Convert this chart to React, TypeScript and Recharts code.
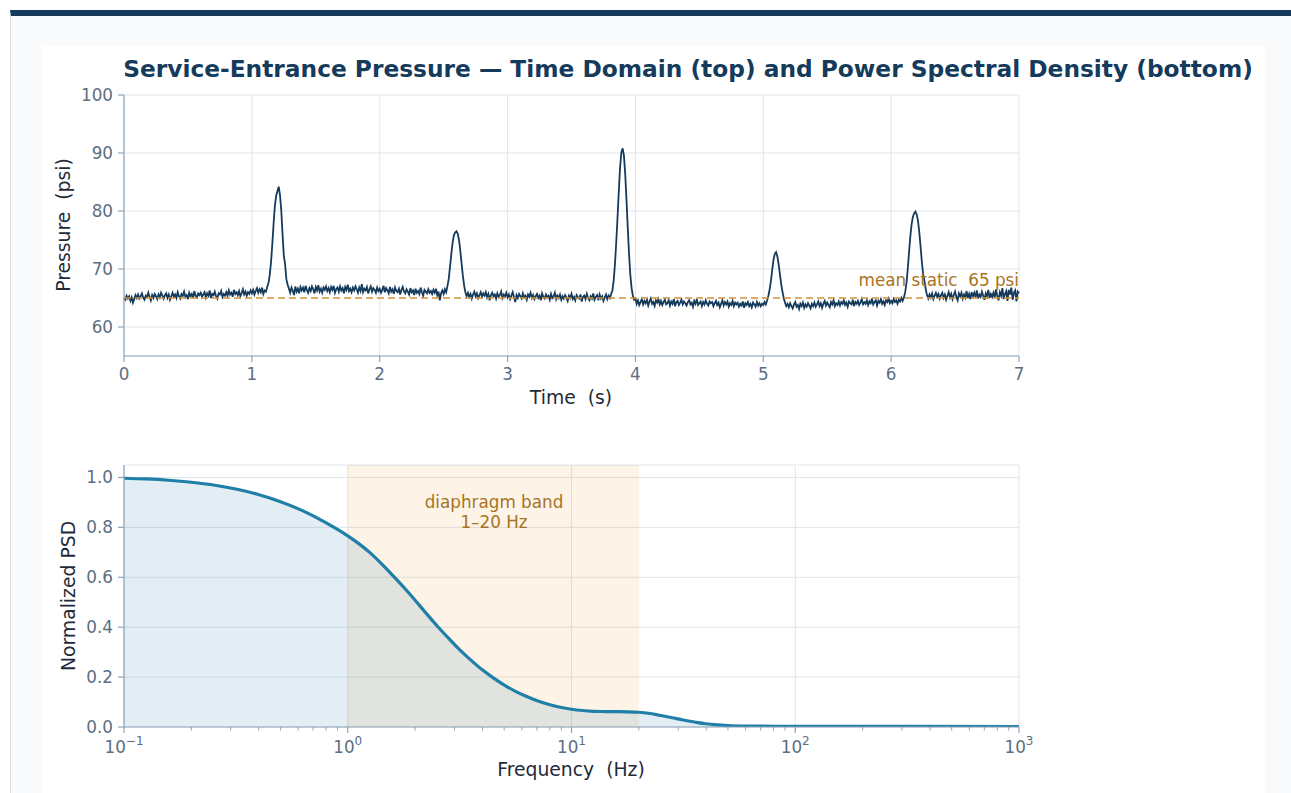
import React from 'react'
import {
  Area,
  CartesianGrid,
  ComposedChart,
  Line,
  LineChart,
  ReferenceArea,
  ReferenceLine,
  XAxis,
  YAxis,
} from 'recharts'

const TITLE = 'Service-Entrance Pressure — Time Domain (top) and Power Spectral Density (bottom)'

// time domain: one sample every 10 ms, 0 … 7 s
const SAMPLE_DT = 0.01
const pressure = [
  65.0, 64.7, 65.4, 64.9, 65.3, 64.5, 65.1, 64.2, 64.8, 65.5, 65.0, 65.6, 64.9, 65.3, 65.8, 65.1, 64.7, 65.4, 65.2, 65.9,
  65.2, 64.6, 65.5, 65.0, 65.7, 65.3, 64.8, 65.6, 65.1, 65.9, 65.4, 64.9, 65.5, 65.8, 65.0, 65.6, 64.7, 65.3, 65.9, 65.2,
  65.6, 65.0, 66.0, 65.3, 64.9, 65.7, 65.4, 66.1, 65.2, 65.5, 64.8, 65.9, 65.3, 65.7, 65.0, 66.2, 65.4, 65.1, 65.8, 65.5,
  65.9, 65.2, 65.6, 66.0, 65.1, 65.8, 65.4, 66.3, 65.0, 65.7, 65.5, 66.1, 65.3, 64.9, 65.8, 65.6, 66.2, 65.2, 65.7, 65.4,
  66.0, 65.4, 66.3, 65.6, 65.9, 65.2, 66.4, 65.7, 66.0, 65.5, 66.2, 65.3, 65.8, 66.5, 65.6, 66.1, 65.4, 66.0, 65.7, 66.3,
  65.8, 66.4, 65.6, 66.2, 66.7, 65.9, 66.5, 66.0, 66.8, 65.7, 66.3, 66.1, 66.9, 67.6, 69.0, 71.2, 74.3, 77.8, 80.9, 82.6,
  83.4, 84.2, 82.8, 80.1, 76.0, 72.3, 70.8, 68.2, 67.3, 66.6, 65.9, 66.8, 66.2, 65.5, 67.0, 66.1, 66.6, 65.8, 66.9, 66.3,
  66.8, 66.0, 67.1, 66.4, 65.9, 66.7, 66.2, 67.0, 66.5, 65.8, 66.9, 66.3, 67.2, 66.1, 66.6, 65.9, 66.8, 66.4, 67.0, 66.2,
  66.7, 66.0, 66.9, 66.4, 67.1, 65.9, 66.5, 66.8, 66.1, 67.0, 66.3, 66.7, 65.8, 66.9, 66.4, 67.3, 66.2, 66.6, 66.0, 66.8,
  66.3, 67.0, 66.5, 65.9, 66.8, 66.2, 67.4, 66.0, 66.6, 66.3, 66.9, 65.8, 66.5, 67.0, 66.1, 66.7, 66.4, 65.9, 66.8, 66.2,
  66.6, 65.9, 66.4, 67.1, 66.0, 66.7, 66.3, 65.8, 66.9, 66.1, 66.5, 65.7, 66.8, 66.2, 66.0, 66.6, 65.6, 66.4, 66.9, 66.1,
  65.8, 66.5, 66.1, 65.6, 66.7, 66.0, 66.3, 65.5, 66.6, 65.9, 66.2, 65.7, 66.8, 66.0, 65.4, 66.4, 66.1, 65.8, 66.5, 65.9,
  66.2, 65.7, 66.4, 65.9, 66.6, 65.5, 66.1, 64.6, 65.8, 66.3, 65.7, 66.5, 66.0, 67.1, 68.3, 70.4, 72.6, 74.5, 75.8, 76.3,
  76.5, 76.1, 75.0, 73.2, 71.0, 68.9, 67.2, 66.0, 65.3, 65.9, 65.2, 65.7, 64.9, 65.6, 66.1, 65.3, 65.8, 65.0, 65.5, 66.0,
  65.2, 65.8, 65.4, 66.0, 65.1, 65.7, 64.6, 65.5, 65.9, 65.3, 65.6, 64.9, 65.8, 65.2, 65.5, 66.1, 65.0, 65.6, 65.3, 65.9,
  65.1, 65.6, 64.8, 65.4, 66.0, 65.2, 64.3, 65.5, 65.0, 65.7, 65.3, 64.9, 65.8, 65.1, 65.4, 64.7, 65.6, 65.2, 65.9, 65.0,
  65.5, 64.8, 65.3, 65.7, 65.0, 65.4, 64.6, 65.8, 65.2, 64.9, 65.6, 65.1, 65.4, 64.7, 65.7, 65.0, 65.3, 65.9, 64.8, 65.4,
  65.0, 65.6, 64.7, 65.3, 64.9, 65.5, 65.1, 64.5, 65.4, 65.0, 65.7, 64.8, 65.2, 64.6, 65.5, 65.1, 64.9, 65.6, 64.4, 65.2,
  65.4, 64.8, 65.7, 65.0, 64.6, 65.3, 64.9, 65.8, 64.7, 65.2, 65.5, 64.6, 65.6, 64.9, 65.3, 64.5, 65.1, 65.6, 64.8, 65.4,
  65.0, 65.7, 66.3, 68.0, 70.9, 74.6, 78.9, 83.4, 87.5, 90.1, 90.8, 89.6, 86.4, 82.0, 77.1, 72.6, 69.0, 66.7, 65.4, 64.7,
  64.9, 64.0, 64.6, 63.8, 64.3, 64.8, 63.9, 64.5, 64.1, 64.7, 63.7, 64.4, 64.9, 64.0, 64.3, 63.6, 64.6, 64.2, 64.8, 63.9,
  64.5, 63.8, 64.3, 64.7, 63.9, 64.1, 64.6, 63.7, 64.4, 64.0, 64.8, 63.6, 64.3, 64.5, 63.8, 64.2, 64.7, 63.9, 64.4, 64.1,
  63.7, 64.3, 64.6, 63.9, 64.2, 63.5, 64.5, 64.0, 64.8, 63.8, 64.1, 64.4, 63.6, 64.3, 63.9, 64.6, 64.0, 63.7, 64.4, 64.1,
  64.3, 63.6, 64.1, 64.5, 63.8, 64.2, 63.4, 64.0, 64.6, 63.7, 64.3, 63.9, 64.4, 63.5, 64.1, 63.8, 64.5, 63.6, 64.2, 63.9,
  64.2, 63.5, 64.0, 63.7, 64.4, 63.3, 64.1, 63.8, 64.3, 63.6, 64.0, 63.4, 64.2, 63.9, 63.5, 64.3, 63.7, 64.1, 63.6, 64.0,
  63.8, 64.3, 63.9, 64.6, 65.4, 66.5, 68.0, 69.9, 71.6, 72.6, 72.9, 72.2, 70.8, 69.1, 67.4, 66.1, 65.0, 64.2, 63.6, 64.0,
  63.4, 64.1, 63.6, 63.2, 63.9, 64.3, 63.5, 63.8, 63.1, 64.0, 63.6, 64.2, 63.3, 63.9, 63.5, 64.1, 63.7, 63.2, 64.0, 63.6,
  64.2, 63.5, 63.9, 64.4, 63.6, 64.1, 63.3, 64.0, 64.5, 63.7, 64.2, 63.8, 63.4, 64.3, 63.9, 64.6, 63.6, 64.1, 63.8, 64.4,
  63.7, 64.3, 64.0, 64.6, 63.8, 64.2, 63.5, 64.4, 64.1, 63.9, 64.7, 63.6, 64.3, 64.0, 64.5, 63.8, 64.2, 64.8, 63.9, 64.3,
  64.0, 64.6, 63.8, 64.4, 64.1, 64.9, 63.9, 64.3, 64.6, 63.7, 64.5, 64.2, 64.8, 64.0, 64.4, 63.8, 64.6, 64.3, 64.9, 64.1,
  64.5, 64.1, 64.8, 64.3, 64.6, 64.0, 64.7, 64.4, 65.0, 64.5, 65.1, 66.0, 67.6, 70.0, 72.9, 75.6, 77.7, 79.0, 79.6, 79.9,
  79.4, 78.3, 76.4, 73.9, 71.3, 69.2, 68.0, 66.6, 65.5, 64.9, 65.6, 65.1, 65.8, 64.8, 65.4, 65.9, 65.2, 65.7, 64.9, 65.5,
  65.9, 65.0, 65.6, 64.7, 65.4, 66.0, 65.1, 65.7, 64.8, 65.5, 66.1, 65.2, 64.6, 65.8, 65.3, 65.9, 64.9, 65.6, 65.1, 66.2,
  65.0, 65.7, 64.8, 66.0, 65.3, 65.9, 65.1, 66.3, 64.9, 65.6, 65.2, 66.1, 65.4, 64.7, 65.8, 65.3, 66.4, 65.0, 65.7, 65.2,
  65.9, 65.1, 66.5, 65.3, 64.6, 66.0, 65.4, 66.7, 64.8, 65.7, 66.2, 64.5, 66.4, 65.6, 66.8, 64.7, 65.9, 66.3, 64.4, 66.1,
  65.8,
]
const timeTicks = [0, 1, 2, 3, 4, 5, 6, 7]
const pressureTicks = [60, 70, 80, 90, 100]
const MEAN_STATIC = 65

// normalized PSD
const freqHz = [
  0.1, 0.126, 0.158, 0.2, 0.251, 0.316, 0.398, 0.501, 0.631, 0.794,
  1, 1.12, 1.26, 1.41, 1.58, 1.78, 2.0, 2.24, 2.51, 2.82,
  3.16, 3.55, 3.98, 4.47, 5.01, 5.62, 6.31, 7.08, 7.94, 8.91,
  10, 11.2, 12.6, 14.1, 15.8, 17.8, 20, 22.4, 25.1, 28.2,
  31.6, 35.5, 39.8, 44.7, 50.1, 63.1, 79.4, 100, 316, 1000,
]
const psdNorm = [
  0.997, 0.994, 0.989, 0.981, 0.97, 0.954, 0.932, 0.903, 0.866, 0.82,
  0.766, 0.735, 0.698, 0.656, 0.61, 0.56, 0.508, 0.456, 0.405, 0.356,
  0.31, 0.268, 0.23, 0.197, 0.168, 0.143, 0.122, 0.104, 0.09, 0.079,
  0.071, 0.066, 0.063, 0.062, 0.0615, 0.061, 0.059, 0.054, 0.046, 0.037,
  0.028, 0.02, 0.013, 0.0085, 0.006, 0.0038, 0.003, 0.0027, 0.0022, 0.002,
]
const psdTicks = [0, 0.2, 0.4, 0.6, 0.8, 1.0]
const decadeTicks = [0.1, 1, 10, 100, 1000]
const decadeExp = ['−1', '0', '1', '2', '3']
const minorTicks = [
  0.2, 0.3, 0.4, 0.5, 0.6, 0.7, 0.8, 0.9,
  2, 3, 4, 5, 6, 7, 8, 9,
  20, 30, 40, 50, 60, 70, 80, 90,
  200, 300, 400, 500, 600, 700, 800, 900,
]
const BAND_LO = 1
const BAND_HI = 20

const NAVY = '#143a5c'
const AXIS = '#8fa4b7'
const GRID = '#dfe6ed'
const TICK_TEXT = '#5d6e7f'
const LABEL = '#1f2b38'
const OCHRE = '#a8741f'
const PSD_BLUE = '#1f7fa8'
const TICK_FONT = 16.8

const timeData = pressure.map((p, i) => ({ t: Math.round(i * SAMPLE_DT * 100) / 100, p }))
const psdData = freqHz.map((f, i) => ({ f, psd: psdNorm[i] }))

function LogTick(props: any) {
  const { x, y, payload } = props
  const idx = decadeTicks.indexOf(payload.value)
  if (idx < 0) {
    return <line x1={x} x2={x} y1={y} y2={y + 3.5} stroke={AXIS} strokeWidth={1} />
  }
  return (
    <g>
      <line x1={x} x2={x} y1={y} y2={y + 6} stroke={AXIS} strokeWidth={1.2} />
      <text x={x} y={y + 26} textAnchor="middle" fill={TICK_TEXT} fontSize={TICK_FONT}>
        10
        <tspan dy={-8} fontSize={12}>
          {decadeExp[idx]}
        </tspan>
      </text>
    </g>
  )
}

function Label({ x, y, text, rotate, color = LABEL, size = 18.8 }: any) {
  return (
    <div
      style={{
        position: 'absolute',
        left: x,
        top: y,
        transform: `translate(-50%, -50%)${rotate ? ' rotate(-90deg)' : ''}`,
        whiteSpace: 'pre',
        color,
        fontSize: size,
        lineHeight: 1.18,
        textAlign: 'center',
      }}
    >
      {text}
    </div>
  )
}

export default function App() {
  return (
    <div
      style={{
        position: 'absolute',
        left: 0,
        top: 0,
        width: 1291,
        height: 793,
        overflow: 'hidden',
        fontFamily: '"DejaVu Sans", sans-serif',
        background: '#ffffff',
      }}
    >
      <div
        style={{
          position: 'absolute',
          left: 10,
          top: 10,
          width: 1290,
          height: 800,
          boxSizing: 'border-box',
          borderTop: `6px solid ${NAVY}`,
          borderLeft: '1px solid #d6dee6',
          background: '#f8fafc',
        }}
      />
      <div style={{ position: 'absolute', left: 42, top: 45, width: 1223, height: 760, background: '#ffffff' }} />

      <div
        style={{
          position: 'absolute',
          left: 0,
          top: 55,
          width: 1376,
          textAlign: 'center',
          fontSize: 23.3,
          fontWeight: 'bold',
          color: NAVY,
          whiteSpace: 'pre',
          lineHeight: '28px',
        }}
      >
        {TITLE}
      </div>

      {/* time domain */}
      <div style={{ position: 'absolute', left: 0, top: 0 }}>
        <LineChart width={1100} height={420} data={timeData} margin={{ top: 95, right: 81, left: 64, bottom: 34 }}>
          <CartesianGrid stroke={GRID} strokeWidth={1} />
          <XAxis
            dataKey="t"
            type="number"
            domain={[0, 7]}
            ticks={timeTicks}
            height={30}
            stroke={AXIS}
            strokeWidth={1.2}
            tickSize={6}
            tickMargin={6}
            tick={{ fill: TICK_TEXT, fontSize: TICK_FONT }}
            interval={0}
          />
          <YAxis
            type="number"
            domain={[55, 100]}
            ticks={pressureTicks}
            width={60}
            stroke={AXIS}
            strokeWidth={1.2}
            tickSize={6}
            tickMargin={5}
            tick={{ fill: TICK_TEXT, fontSize: TICK_FONT }}
            interval={0}
            allowDataOverflow
          />
          <Line
            dataKey="p"
            type="linear"
            stroke={NAVY}
            strokeWidth={1.8}
            dot={false}
            isAnimationActive={false}
          />
          <ReferenceLine y={MEAN_STATIC} stroke="#d4913a" strokeWidth={1.7} strokeDasharray="7 4" />
        </LineChart>
      </div>
      <div
        style={{
          position: 'absolute',
          right: 1291 - 1019,
          top: 270,
          color: OCHRE,
          fontSize: 16.8,
          whiteSpace: 'pre',
          lineHeight: '21px',
        }}
      >
        {'mean static  65 psi'}
      </div>
      <Label x={571} y={398} text={'Time  (s)'} />
      <Label x={64} y={225} text={'Pressure  (psi)'} rotate />

      {/* power spectral density */}
      <div style={{ position: 'absolute', left: 0, top: 400 }}>
        <ComposedChart width={1100} height={400} data={psdData} margin={{ top: 65, right: 81, left: 64, bottom: 43 }}>
          <CartesianGrid stroke={GRID} strokeWidth={1} verticalValues={decadeTicks} />
          <ReferenceArea x1={BAND_LO} x2={BAND_HI} y1={0} y2={1.05} fill="#f0a030" fillOpacity={0.12} stroke="none" />
          <XAxis
            dataKey="f"
            type="number"
            scale="log"
            domain={[0.1, 1000]}
            ticks={[...decadeTicks, ...minorTicks]}
            interval={0}
            height={30}
            stroke={AXIS}
            strokeWidth={1.2}
            tickLine={false}
            tickSize={0}
            tickMargin={0}
            tick={<LogTick />}
            allowDataOverflow
          />
          <YAxis
            type="number"
            domain={[0, 1.05]}
            ticks={psdTicks}
            width={60}
            stroke={AXIS}
            strokeWidth={1.2}
            tickSize={6}
            tickMargin={5}
            tick={{ fill: TICK_TEXT, fontSize: TICK_FONT }}
            tickFormatter={(v: number) => v.toFixed(1)}
            interval={0}
            allowDataOverflow
          />
          <Area
            dataKey="psd"
            type="monotone"
            stroke={PSD_BLUE}
            strokeWidth={3.2}
            fill={PSD_BLUE}
            fillOpacity={0.13}
            dot={false}
            activeDot={false}
            isAnimationActive={false}
          />
        </ComposedChart>
      </div>
      <Label x={494} y={513} text={'diaphragm band\n1–20 Hz'} color={OCHRE} size={16.8} />
      <Label x={571} y={770} text={'Frequency  (Hz)'} />
      <Label x={69} y={596} text={'Normalized PSD'} rotate />
    </div>
  )
}
